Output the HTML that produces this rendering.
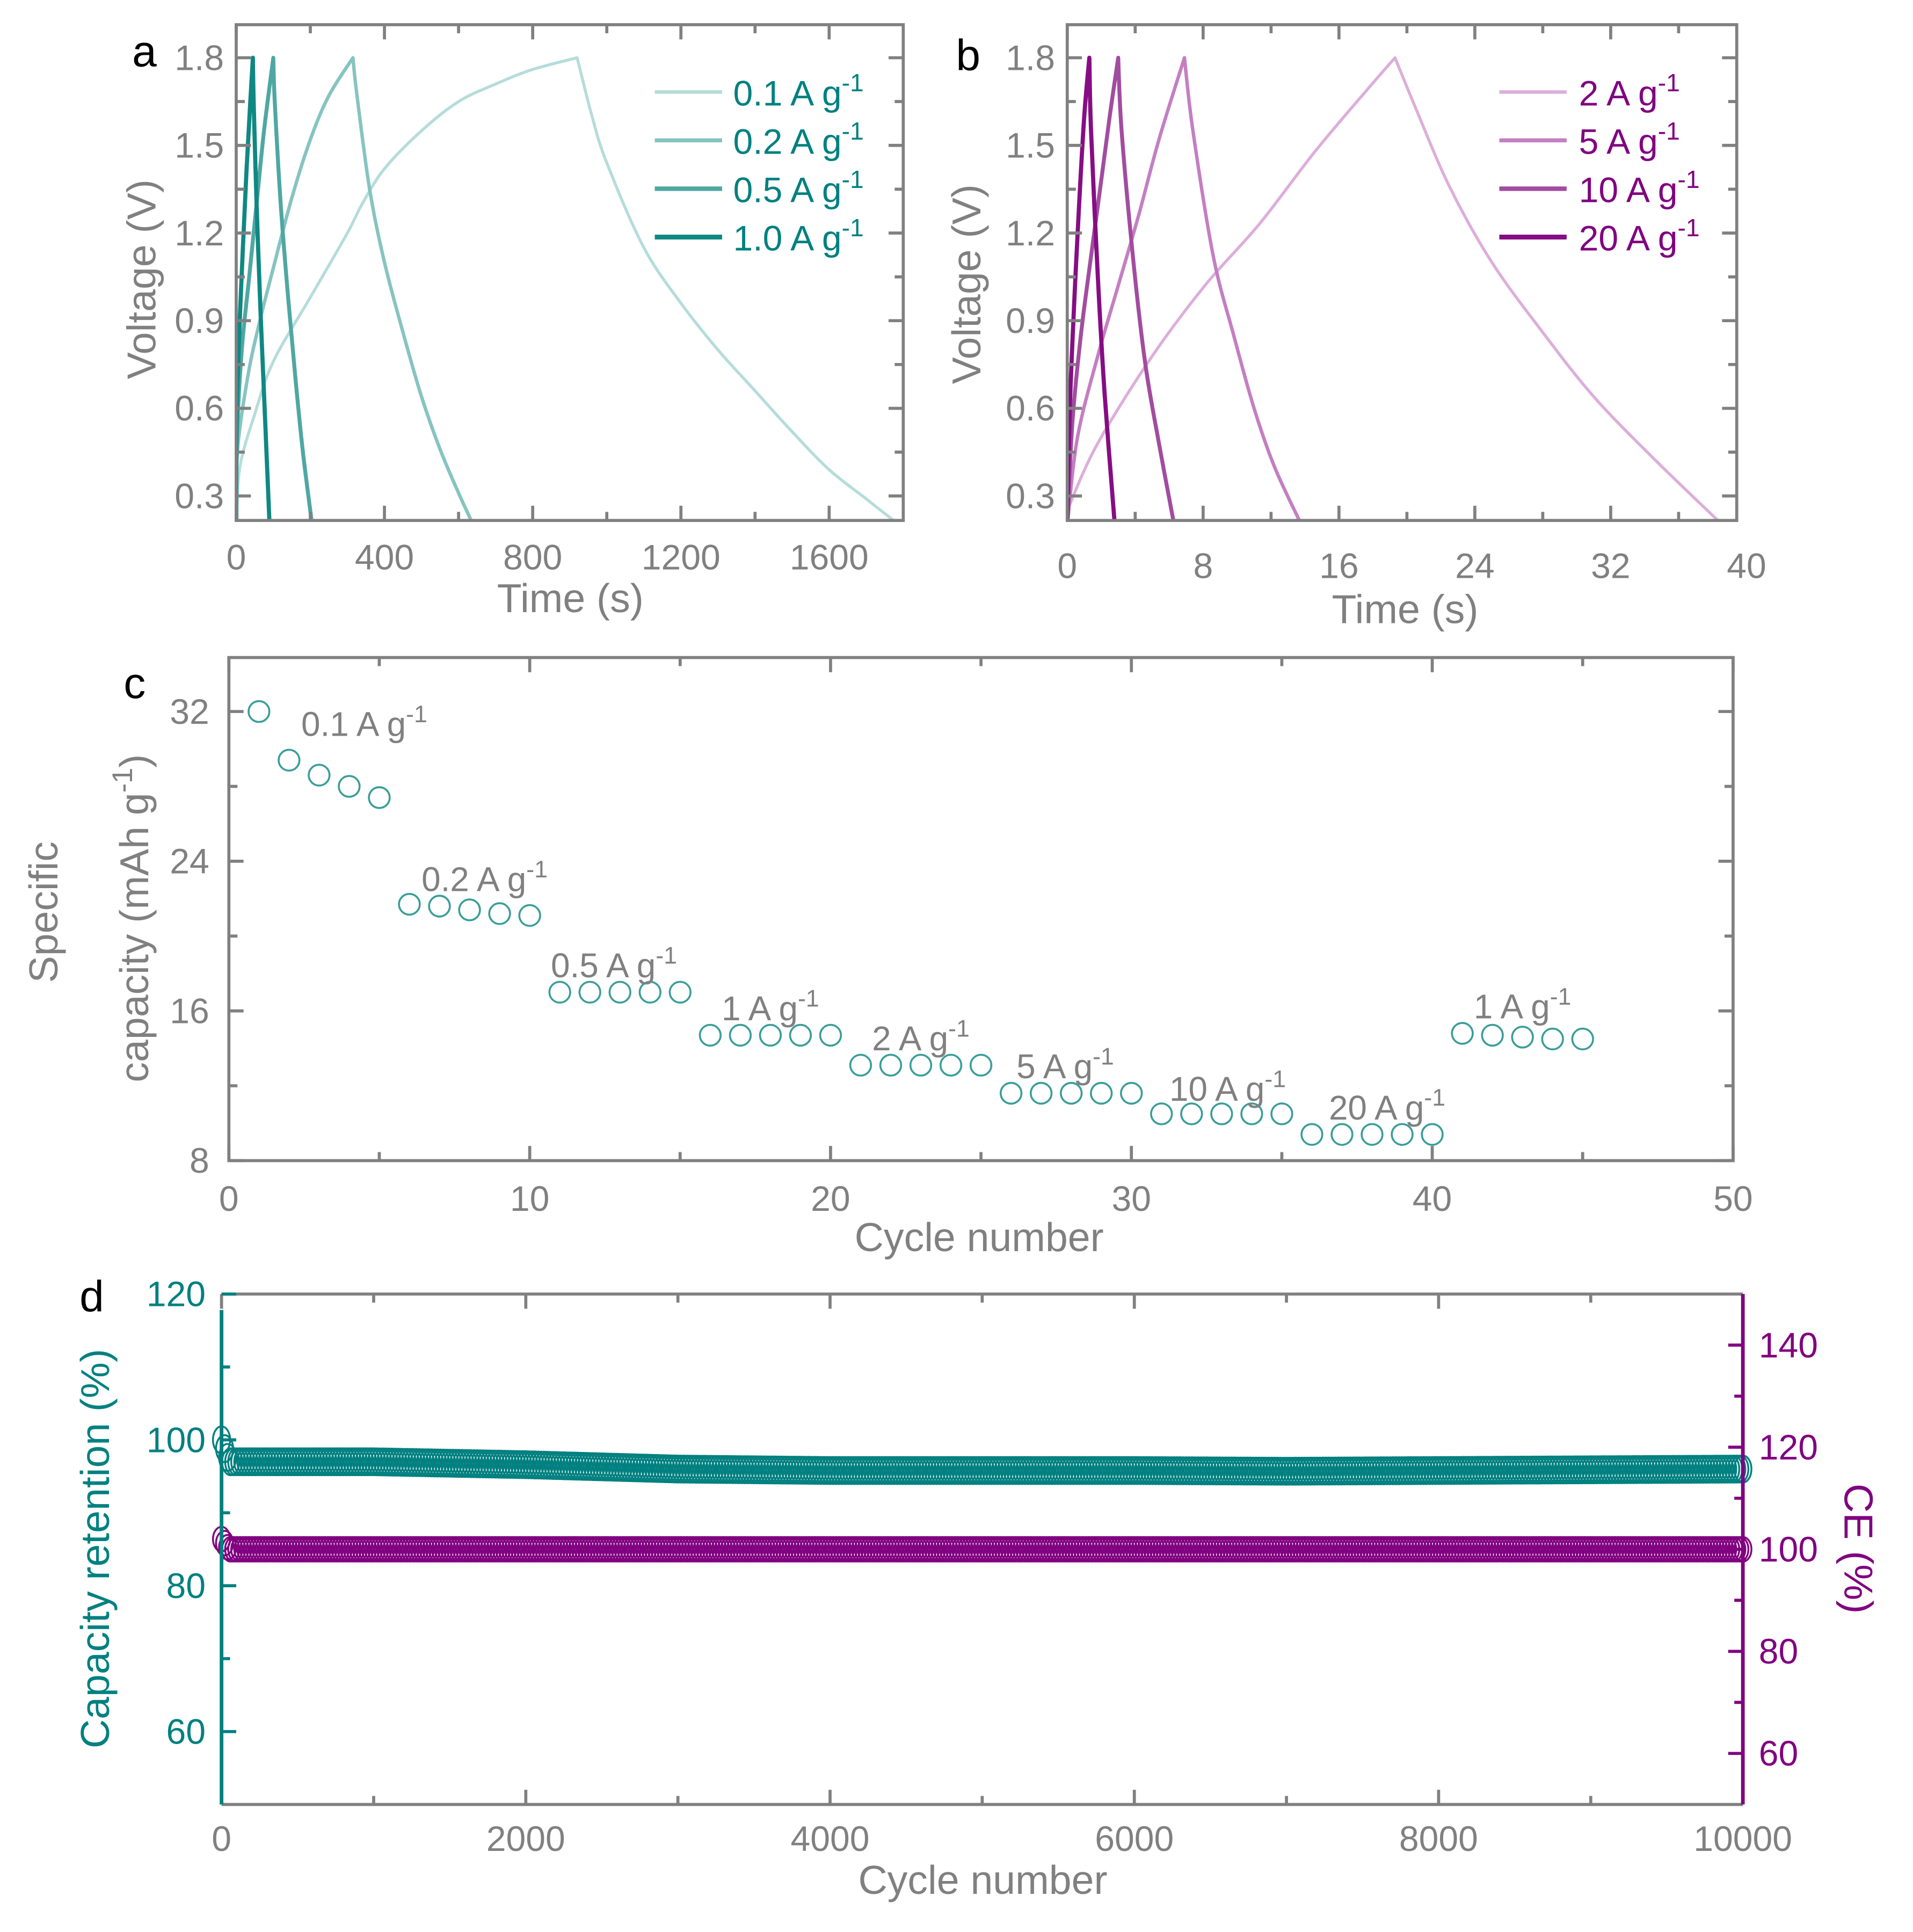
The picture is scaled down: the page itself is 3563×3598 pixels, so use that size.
<!DOCTYPE html>
<html><head><meta charset="utf-8">
<style>
html,body{margin:0;padding:0;background:#fff;}
svg{display:block;}
text{font-family:"Liberation Sans",sans-serif;}
</style></head>
<body>
<svg id="fig" width="3563" height="3598" viewBox="0 0 1563 1578" xmlns="http://www.w3.org/2000/svg">
<g id="root"></g>
</svg>
<script>
// ---- Data ----
const aLabels = ["0.1 A g","0.2 A g","0.5 A g","1.0 A g"];
const aT01 = [0,10,50,100,200,300,340,400,500,600,700,800,920,960,1000,1100,1200,1300,1400,1500,1600,1700,1790];
const aV01 = [0.2,0.4,0.58,0.76,0.98,1.2,1.3,1.42,1.55,1.65,1.71,1.76,1.8,1.6,1.44,1.15,0.96,0.8,0.66,0.52,0.39,0.29,0.2];
const aT02 = [0,3,30,60,100,150,200,250,315,325,360,400,450,500,550,600,640];
const aV02 = [0.2,0.45,0.7,0.88,1.08,1.32,1.52,1.67,1.8,1.68,1.35,1.1,0.86,0.64,0.46,0.31,0.2];
const aT05 = [0,2,15,35,55,75,100,104,120,140,160,180,205];
const aV05 = [0.2,0.5,0.8,1.05,1.3,1.55,1.8,1.65,1.3,0.98,0.7,0.45,0.2];
const aT10 = [0,1,8,18,28,38,45,47,55,65,75,90];
const aV10 = [0.2,0.55,0.85,1.15,1.42,1.65,1.8,1.65,1.3,0.95,0.65,0.2];
const bLabels = ["2 A g","5 A g","10 A g","20 A g"];
const bT2 = [0,1.7,4.9,8.1,11.3,14.6,17.8,19.3,20.5,22.5,25,28,31,34.5,38.6];
const bV2 = [0.25,0.47,0.77,1.02,1.23,1.48,1.7,1.8,1.63,1.36,1.1,0.86,0.64,0.43,0.2];
const bT5 = [0,0.6,1.8,3.0,4.2,5.4,6.9,7.4,8.6,9.8,11.0,12.2,13.8];
const bV5 = [0.2,0.5,0.78,1.02,1.26,1.52,1.8,1.55,1.12,0.85,0.6,0.4,0.2];
const bT10 = [0,0.3,0.8,1.4,2.0,2.5,3.0,3.2,3.9,4.6,5.4,6.3];
const bV10 = [0.2,0.55,0.85,1.12,1.38,1.6,1.8,1.55,1.1,0.75,0.48,0.2];
const bT20 = [0,0.15,0.4,0.7,1.0,1.3,1.4,1.8,2.2,2.8];
const bV20 = [0.2,0.6,0.95,1.3,1.6,1.8,1.55,1.05,0.65,0.2];
const cCycles = [1,2,3,4,5,6,7,8,9,10,11,12,13,14,15,16,17,18,19,20,21,22,23,24,25,26,27,28,29,30,31,32,33,34,35,36,37,38,39,40,41,42,43,44,45];
const cCap = [32.0,29.4,28.6,28.0,27.4,21.7,21.6,21.4,21.2,21.1,17.0,17.0,17.0,17.0,17.0,14.7,14.7,14.7,14.7,14.7,13.1,13.1,13.1,13.1,13.1,11.6,11.6,11.6,11.6,11.6,10.5,10.5,10.5,10.5,10.5,9.4,9.4,9.4,9.4,9.4,14.8,14.7,14.6,14.5,14.5];
const cRateLabels = ["0.1 A g","0.2 A g","0.5 A g","1 A g","2 A g","5 A g","10 A g","20 A g","1 A g"];
const cRateX = [4.5,8.5,12.8,18,23,27.8,33.2,38.5,43];
const cRateY = [30.7,22.4,17.8,15.5,13.9,12.4,11.2,10.2,15.6];
const dKeyCycles = [0,50,1000,2000,3000,4000,5000,6000,7000,8000,9000,10000];
const dRetention = [100,97,97,96.6,96,95.8,95.8,95.8,95.7,95.8,95.9,96];
const dCE = [102,100,100,100,100,100,100,100,100,100,100,100];

// ---- Helpers ----
const NS="http://www.w3.org/2000/svg";
const root=document.getElementById('root');
function el(tag,attrs,parent){const e=document.createElementNS(NS,tag);for(const k in attrs)e.setAttribute(k,attrs[k]);(parent||root).appendChild(e);return e;}
function txt(s,x,y,size,fill,anchor,parent,rot){const t=el('text',{x:x,y:y,'font-size':size,fill:fill,'text-anchor':anchor||'middle'},parent);if(rot!==undefined)t.setAttribute('transform','rotate('+rot+' '+x+' '+y+')');t.textContent=s;return t;}
function supTxt(base,x,y,size,fill,parent,anchor){const t=el('text',{x:x,y:y,'font-size':size,fill:fill,'text-anchor':anchor||'start'},parent);t.appendChild(document.createTextNode(base));const s=document.createElementNS(NS,'tspan');s.setAttribute('dy',-size*0.4);s.setAttribute('font-size',size*0.7);s.textContent='-1';t.appendChild(s);return t;}
const GRAY="#808080", TEAL="#008080", PURP="#800080";
const TICK=29, TITLE=33;

function frame(g,x0,y0,x1,y1){el('rect',{x:x0,y:y0,width:x1-x0,height:y1-y0,fill:'none',stroke:GRAY,'stroke-width':2.5},g);}
function xticks(g,sx,vals,minor,y0,y1,color,labelY,size,labels){
 vals.forEach((v,i)=>{const x=sx(v);el('line',{x1:x,y1:y1,x2:x,y2:y1-12,stroke:color,'stroke-width':2.5},g);el('line',{x1:x,y1:y0,x2:x,y2:y0+12,stroke:color,'stroke-width':2.5},g);txt(labels?labels[i]:String(v),x,labelY,size,GRAY,'middle',g);});
 minor.forEach(v=>{const x=sx(v);el('line',{x1:x,y1:y1,x2:x,y2:y1-7,stroke:color,'stroke-width':2.5},g);el('line',{x1:x,y1:y0,x2:x,y2:y0+7,stroke:color,'stroke-width':2.5},g);});
}
function yticks(g,sy,vals,minor,x0,x1,color,labelX,size,labels,labColor,sides){
 sides=sides||'both';
 vals.forEach((v,i)=>{const y=sy(v);if(sides!=='right')el('line',{x1:x0,y1:y,x2:x0+12,y2:y,stroke:color,'stroke-width':2.5},g);if(sides!=='left')el('line',{x1:x1,y1:y,x2:x1-12,y2:y,stroke:color,'stroke-width':2.5},g);if(labelX!==null)txt(labels?labels[i]:String(v),labelX,y+10,size,labColor||GRAY,sides==='right'?'start':'end',g);});
 minor.forEach(v=>{const y=sy(v);if(sides!=='right')el('line',{x1:x0,y1:y,x2:x0+7,y2:y,stroke:color,'stroke-width':2.5},g);if(sides!=='left')el('line',{x1:x1,y1:y,x2:x1-7,y2:y,stroke:color,'stroke-width':2.5},g);});
}
function curve(g,sx,sy,T,V,color,w,name){
 const P=T.map((t,i)=>[sx(t),sy(V[i])]);
 let d='M'+P[0][0].toFixed(2)+','+P[0][1].toFixed(2);
 const peak=V.indexOf(Math.max(...V));
 for(let i=0;i<P.length-1;i++){
  const p0=P[(i===peak)?i:Math.max(i-1,0)],p1=P[i],p2=P[i+1],p3=P[(i+1===peak)?i+1:Math.min(i+2,P.length-1)];
  const c1=[p1[0]+(p2[0]-p0[0])/6,p1[1]+(p2[1]-p0[1])/6],c2=[p2[0]-(p3[0]-p1[0])/6,p2[1]-(p3[1]-p1[1])/6];
  d+=' C'+c1[0].toFixed(2)+','+c1[1].toFixed(2)+' '+c2[0].toFixed(2)+','+c2[1].toFixed(2)+' '+p2[0].toFixed(2)+','+p2[1].toFixed(2);
 }
 const p=el('path',{d:d,fill:'none',stroke:color,'stroke-width':w,'stroke-linejoin':'round'},g);return p;}

// ---- Panel a ----
(function(){
 const g=el('g',{});
 const X0=193,X1=738,Y0=20,Y1=425;
 const sx=t=>X0+(t/1800)*(X1-X0);
 const sy=v=>47+(1.8-v)/0.3*71.6;
 const clip=el('clipPath',{id:'clipA'},g);el('rect',{x:X0,y:Y0,width:X1-X0,height:Y1-Y0},clip);
 const cg=el('g',{'clip-path':'url(#clipA)'},g);
 const cols=['#b5dcda','#86c4c0','#4fa7a2','#0f8883'];const ws=[2.4,2.8,3.2,3.4];
 const TT=[aT01,aT02,aT05,aT10],VV=[aV01,aV02,aV05,aV10];
 for(let i=0;i<4;i++)curve(cg,sx,sy,TT[i],VV[i],cols[i],ws[i],'curve-a-'+i);
 frame(g,X0,Y0,X1,Y1);
 xticks(g,sx,[0,400,800,1200,1600],[200,600,1000,1400],Y0,Y1,GRAY,465,TICK);
 yticks(g,sy,[0.3,0.6,0.9,1.2,1.5,1.8],[0.45,0.75,1.05,1.35,1.65],X0,X1,GRAY,183,TICK,['0.3','0.6','0.9','1.2','1.5','1.8']);
 for(let i=0;i<4;i++){const y=75+i*39.5;const l=el('line',{x1:535,y1:y,x2:590,y2:y,stroke:cols[i],'stroke-width':ws[i]+0.5},g);const t=supTxt(aLabels[i],599,y+11,29,TEAL,g);}
 const yt=txt('Voltage (V)',127,228,TITLE,GRAY,'middle',g,-90);
 const xt=txt('Time (s)',466,500,TITLE,GRAY,'middle',g);
 const pl=txt('a',118,54,36,'#000','middle',g);
})();

// ---- Panel b ----
(function(){
 const g=el('g',{});
 const X0=872,X1=1419,Y0=20,Y1=425;
 const sx=t=>X0+t*13.875;
 const sy=v=>47+(1.8-v)/0.3*71.6;
 const clip=el('clipPath',{id:'clipB'},g);el('rect',{x:X0,y:Y0,width:X1-X0,height:Y1-Y0},clip);
 const cg=el('g',{'clip-path':'url(#clipB)'},g);
 const cols=['#dcaedb','#c47ec2','#a24ca0','#860d84'];const ws=[2.4,2.8,3.2,3.4];
 const TT=[bT2,bT5,bT10,bT20],VV=[bV2,bV5,bV10,bV20];
 for(let i=0;i<4;i++)curve(cg,sx,sy,TT[i],VV[i],cols[i],ws[i],'curve-b-'+i);
 frame(g,X0,Y0,X1,Y1);
 xticks(g,sx,[0,8,16,24,32],[4,12,20,28,36],Y0,Y1,GRAY,472,TICK);
 txt('40',1427,472,TICK,GRAY,'middle',g);
 yticks(g,sy,[0.3,0.6,0.9,1.2,1.5,1.8],[0.45,0.75,1.05,1.35,1.65],X0,X1,GRAY,862,TICK,['0.3','0.6','0.9','1.2','1.5','1.8']);
 for(let i=0;i<4;i++){const y=75+i*39.5;const l=el('line',{x1:1225,y1:y,x2:1280,y2:y,stroke:cols[i],'stroke-width':ws[i]+0.5},g);const t=supTxt(bLabels[i],1290,y+11,29,PURP,g);}
 const yt=txt('Voltage (V)',801,232,TITLE,GRAY,'middle',g,-90);
 const xt=txt('Time (s)',1148,509,TITLE,GRAY,'middle',g);
 const pl=txt('b',791,57,36,'#000','middle',g);
})();

// ---- Panel c ----
(function(){
 const g=el('g',{});
 const X0=187,X1=1416,Y0=537,Y1=948;
 const sx=c=>X0+c/50*(X1-X0);
 const sy=v=>948-(v-8)/8*122.3;
 frame(g,X0,Y0,X1,Y1);
 xticks(g,sx,[0,10,20,30,40,50],[5,15,25,35,45],Y0,Y1,GRAY,989,TICK);
 yticks(g,sy,[8,16,24,32],[12,20,28],X0,X1,GRAY,171,TICK);
 cCycles.forEach((c,i)=>{const p=el('circle',{cx:sx(c),cy:sy(cCap[i]),r:8.5,fill:'none',stroke:'#3a9e99','stroke-width':1.6},g);});
 cRateLabels.forEach((s,i)=>{const t=supTxt(s,sx(cRateX[i]),sy(cRateY[i]),28,GRAY,g,'middle');});
 const t1=txt('Specific',47,745,TITLE,GRAY,'middle',g,-90);
 const t2=el('text',{x:121,y:750,'font-size':TITLE,fill:GRAY,'text-anchor':'middle',transform:'rotate(-90 121 750)'},g);t2.appendChild(document.createTextNode('capacity (mAh g'));const sp=document.createElementNS(NS,'tspan');sp.setAttribute('dy',-13);sp.setAttribute('font-size',23);sp.textContent='-1';t2.appendChild(sp);const sp2=document.createElementNS(NS,'tspan');sp2.setAttribute('dy',13);sp2.textContent=')';t2.appendChild(sp2);
 
 const xt=txt('Cycle number',800,1022,TITLE,GRAY,'middle',g);
 const pl=txt('c',110,570,36,'#000','middle',g);
})();

// ---- Panel d ----
(function(){
 const g=el('g',{});
 const X0=181,X1=1424,Y0=1057,Y1=1474;
 const sx=c=>X0+c/10000*(X1-X0);
 const syL=v=>1474-(v-50)/70*417;
 const syR=v=>1474-(v-50)/100*417;
 el('line',{x1:X0,y1:Y0,x2:X1,y2:Y0,stroke:GRAY,'stroke-width':2.5},g);
 el('line',{x1:X0,y1:Y1,x2:X1,y2:Y1,stroke:GRAY,'stroke-width':2.5},g);
 xticks(g,sx,[0,2000,4000,6000,8000,10000],[1000,3000,5000,7000,9000],Y0,Y1,GRAY,1512,TICK);
 function interp(K,V,c){for(let i=1;i<K.length;i++){if(c<=K[i]){const f=(c-K[i-1])/(K[i]-K[i-1]);return V[i-1]+f*(V[i]-V[i-1]);}}return V[V.length-1];}
 const ce=el('g',{},g);
 const rt=el('g',{},g);
 for(let c=0;c<=10000;c+=20){
  el('ellipse',{cx:sx(c),cy:syR(interp(dKeyCycles,dCE,c)),rx:7,ry:10,fill:'none',stroke:PURP,'stroke-width':1.5},ce);
  el('ellipse',{cx:sx(c),cy:syL(interp(dKeyCycles,dRetention,c)),rx:7,ry:11,fill:'none',stroke:TEAL,'stroke-width':1.5},rt);
 }
 el('line',{x1:X0,y1:1070,x2:X0,y2:Y1,stroke:TEAL,'stroke-width':3},g);
 el('line',{x1:X1,y1:Y0,x2:X1,y2:Y1,stroke:PURP,'stroke-width':3},g);
 yticks(g,syL,[60,80,100,120],[70,90,110],X0,X1,TEAL,168,TICK,null,TEAL,'left');
 yticks(g,syR,[60,80,100,120,140],[70,90,110,130],X0,X1,PURP,1437,TICK,null,PURP,'right');
 const yl=txt('Capacity retention (%)',89,1265,33,TEAL,'middle',g,-90);
 const yr=txt('CE (%)',1507,1265,33,PURP,'middle',g,90);
 const xt=txt('Cycle number',803,1547,TITLE,GRAY,'middle',g);
 const pl=txt('d',75,1071,36,'#000','middle',g);
})();
</script>
</body></html>
